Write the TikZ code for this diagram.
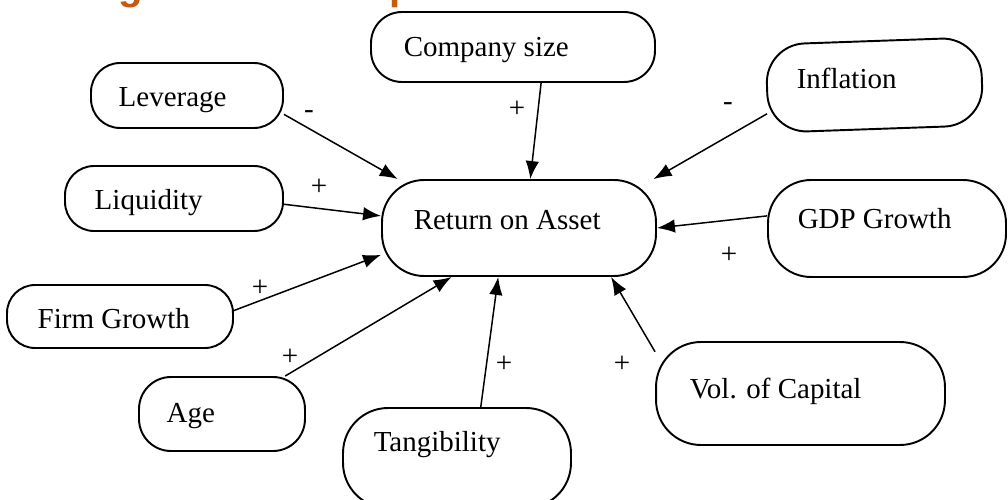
\documentclass[tikz,border=0pt]{standalone}
\usepackage{fontspec}
\setmainfont{Liberation Serif}
\newfontfamily\headfont{Liberation Sans}
\usetikzlibrary{arrows.meta}
\definecolor{headorange}{RGB}{197,90,17}
\begin{document}
\begin{tikzpicture}[x=0.02cm, y=-0.02cm, line width=0.85pt,
    >={Latex[length=0.36cm, width=0.27cm]},
    box/.style={draw, line width=1.1pt, inner sep=0pt, rounded corners=#1},
    box/.default=0.58cm,
    txt/.style={anchor=base west, inner sep=0pt, font=\fontsize{16.5}{19}\selectfont},
    sign/.style={inner sep=0pt, font=\fontsize{16.5}{19}\selectfont}]
    \useasboundingbox (0,0) rectangle (1008,500);
    \node [anchor=base west, inner sep=0pt, text=headorange,
        font=\headfont\bfseries\fontsize{22.8}{26}\selectfont] (head) at (82,0) {Figure 1: Conceptual Framework};
    \node [box=0.84cm, minimum width=5.48cm, minimum height=1.92cm] (roa) at (519,228) {};
    \node [box=0.62cm, minimum width=5.68cm, minimum height=1.40cm] (comp) at (513,47) {};
    \node [box, minimum width=3.84cm, minimum height=1.30cm] (lev) at (187,95.5) {};
    \node [box, minimum width=4.36cm, minimum height=1.30cm] (liq) at (174,198.5) {};
    \node [box=0.78cm, minimum width=4.30cm, minimum height=1.76cm, rotate=2] (infl) at (874.5,85) {};
    \node [box=0.86cm, minimum width=4.76cm, minimum height=1.94cm] (gdp) at (887,228.5) {};
    \node [box=0.56cm, minimum width=4.52cm, minimum height=1.26cm] (firm) at (120,316.5) {};
    \node [box=0.64cm, minimum width=3.32cm, minimum height=1.48cm] (age) at (222,414) {};
    \node [box=0.9cm, minimum width=4.56cm, minimum height=2.00cm] (tang) at (457,458) {};
    \node [box=0.9cm, minimum width=5.78cm, minimum height=2.06cm] (vol) at (800.5,393.5) {};
    \node [txt] (roatxt) at (413,229) {Return on Asset};
    \node [txt] (comptxt) at (403,57) {Company size};
    \node [txt] (levtxt) at (118,107) {Leverage};
    \node [txt] (liqtxt) at (94,210) {Liquidity};
    \node [txt] (infltxt) at (796,89) {Inflation};
    \node [txt] (gdptxt) at (797,228) {GDP Growth};
    \node [txt] (firmtxt) at (37,328) {Firm Growth};
    \node [txt] (agetxt) at (166,422) {Age};
    \node [txt] (tangtxt) at (373,451) {Tangibility};
    \node [txt] (voltxt) at (689,398) {Vol. of Capital};
    \draw [->] (lev.-11.5) -- (roa.158.4);
    \draw [->] (liq.-3.4) -- (roa.175);
    \draw [->] (comp.-52.4) -- (roa.77.1);
    \draw [->] (infl.193.1) -- (roa.20.8);
    \draw [->] (gdp.174) -- (roa.-0.8);
    \draw [->] (firm.3.8) -- (roa.191.9);
    \draw [->] (age.31.2) -- (roa.-144.9);
    \draw [->] (tang.65.3) -- (roa.-113.3);
    \draw [->] (vol.164) -- (roa.-28.8);
    \node [sign] (levsign) at (309,115) {-};
    \node [sign] (liqsign) at (319,187) {+};
    \node [sign] (compsign) at (517,109) {+};
    \node [sign] (inflsign) at (728,107) {-};
    \node [sign] (gdpsign) at (729,255) {+};
    \node [sign] (firmsign) at (260,288) {+};
    \node [sign] (agesign) at (290,357) {+};
    \node [sign] (tangsign) at (504,364) {+};
    \node [sign] (volsign) at (622,364) {+};
\end{tikzpicture}
\end{document}
